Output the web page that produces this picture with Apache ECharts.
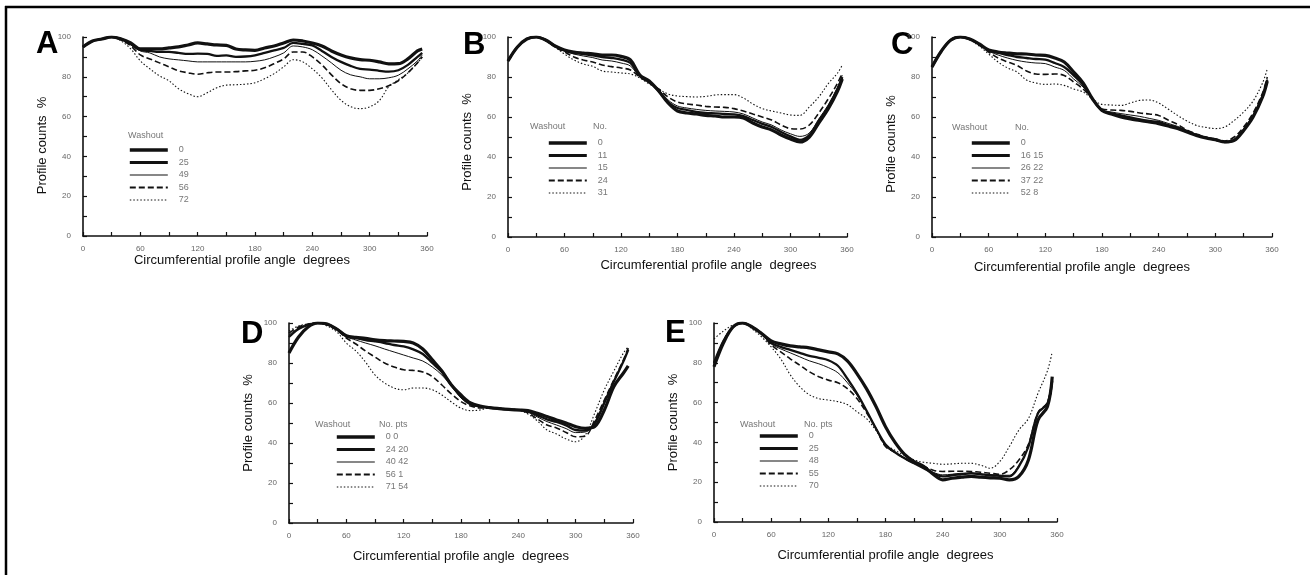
<!DOCTYPE html>
<html><head><meta charset="utf-8">
<script src="https://cdn.jsdelivr.net/npm/echarts@6/dist/echarts.min.js"></script>
<style>html,body{margin:0;padding:0;background:#fff}#c{width:1310px;height:575px}</style>
</head><body><div id="c"></div>
<script>
// ---- DATA ----
const angles = [0,10,20,30,40,50,60,70,80,90,100,110,120,130,140,150,160,170,180,190,200,210,220,230,240,250,260,270,280,290,300,310,320,330,340,350,355];
const xTickLabels = [0,60,120,180,240,300,360];
const yTickLabels = [0,20,40,60,80,100];

// Panel A
const A0 = [95,98,99,100,99,97,94,94,94,94.5,95,96,97,96.5,96,95.8,94,93.5,93.3,94.5,95.5,97,98.5,98,97,95.5,93,91,89.5,88.6,88.3,87.5,86.5,86.6,89,93,94];
const A1 = [95,98,99,100,99,96.5,93.5,93,92.5,92.5,92,91.5,91.6,91.5,90.5,90.8,90,90.2,90.8,92,93.3,94.5,97,96.5,95.8,93,90,87.5,85.5,84,83.6,83,82.6,83.3,86,90,92];
const A2 = [95,98,99,100,99,96,93,92,90,89,88.5,88,87.5,87.5,87.5,87.5,87.5,87.5,87.8,88.5,90,92,95.5,95,93.6,90.5,87,83.3,81,80,79,79,79.5,80.8,84,88,91];
const A3 = [95,98,99,100,98.5,95.5,91,89,87,85,83,82,81.3,82,82.4,82.4,82.6,83,83.3,84.5,86.6,89,92.5,92.5,90,86,81,76.6,74,73.2,73.2,74,75.5,78,82,87,90];
const A4 = [95,98,99,100,98,94,88,84,80.5,78,74,71.5,70,72,74.5,75.8,76,76.3,77,79,81.6,85,88.6,87.5,84,79.5,73.5,68.2,65,64,64.9,68,75,78.5,82,87,90];
const A_labels = ["0","25","49","56","72"];

// Panel B
const B0 = [88,95,99,100,98.5,95.5,93.5,92.5,92,91.6,91,91,90.3,88.5,81,78,73,67,63,62,61.5,60.8,60.5,60,60,59.5,57,55,53.5,51,49,47.5,50,57,64,73,79];
const B1 = [88,95,99,100,98.5,95.5,93.3,92,91.5,90.8,90,89.5,88.7,87,80.5,77.5,73,67.5,64.5,63.5,62.5,62,61.8,61.5,61.3,60.5,58.5,56.6,55,52.5,50.3,48.6,51,58,65,74,80];
const B2 = [88,95,99,100,98.5,95.5,93,91.5,90.5,89.7,88.5,88,87,85.5,80,77,73.5,68.5,65.5,64.5,63.8,63.3,63,62.8,62.5,61.5,59.5,57.5,56,53.5,51.6,50.3,52,59,66,75,81];
const B3 = [88,95,99,100,98.5,95,92.5,90,88.5,87.5,86,85.2,84.5,83.5,80,77,74,70,67.5,66.5,66,65.3,65,64.8,64.2,63,61.5,60,58.5,56,54.2,54,56,62,69,77,82];
const B4 = [88,95,99,100,98,95,91.5,88.5,86.5,85.3,83,82.5,82,81.5,79.5,76.5,74,71.5,70.5,70.2,70,70.3,71,71.2,71.2,69.5,66.5,64.2,63,62,61,60.8,65,70,76.6,82,86];
const B_labels = ["0","11","15","24","31"];

// Panel C
const C0 = [85,93,98.5,100,99,96.5,93.5,92.5,92,91.6,91.5,91,90.8,89.5,87.5,82.5,77,69,63.3,61.5,60,59,58.3,57.5,56.7,55.5,54.2,52.5,50.8,49.5,48.7,47.5,48.3,53.3,60,70,78];
const C1 = [85,93,98.5,100,99,96.5,93.3,92,91,90,89.5,89,88.7,87,85,80.8,76,69,63.3,61.8,60.8,59.8,58.8,58,57.5,56,54.7,53,51,49.7,48.7,47.5,48.5,53.5,60.5,70.5,78.5];
const C2 = [85,93,98.5,100,99,96.5,93,91,89.5,88.3,87.5,87,86.7,85,83.3,79,75,69,63.5,62.5,61.7,61,60.3,59.3,58.3,56.8,55.3,53.2,51.3,50,48.8,47.5,48.7,54,61,71,79];
const C3 = [85,93,98.5,100,99,96,92.5,89.5,87.5,85.8,83,81.5,81.3,81.5,80.8,77.5,74,69,64,63.5,63.3,62.8,62,61.5,60.8,58.5,56.3,53.5,51.5,50,49,48,50,55,62,72,80];
const C4 = [85,93,98.5,100,98.5,95.5,91.5,87.5,84.5,82.5,78.5,77,76.3,76.5,75.8,74,72.5,69,66.3,66,65.8,67,68.3,68.5,67,64,60.8,58,55.8,54.8,54.2,55,58.3,62.5,68,77,84];
const C_labels = ["0","16 15","26 22","37 22","52 8"];

// Panel D
const D0 = [85,93,98,100,99.5,97,93.6,92.8,92.3,91.6,91.2,91,90.8,90,87,81.6,76,69,64,60,58.5,57.7,57.2,56.8,56.5,56.2,54.8,53.2,51.5,50,48.2,47.3,48.2,56.5,68.2,75,78.6];
const D1 = [93,97,99,100,99.5,97,93.4,92.5,91.5,90.8,90,89,88.3,86.8,84.5,80,75.5,69,63.2,59.5,58.3,57.7,57.2,56.8,56.5,55.8,53.8,51.8,50.5,48.8,46.5,46.2,49.8,60,70.7,80.8,86.6];
const D2 = [94,97.5,99.5,100,99.5,97,93.2,91.5,90,88.6,87,85.5,84,82.5,81,78,74,68.5,62.5,59,58,57.7,57.2,56.8,56.5,55.5,53,50.7,49,47.2,45.2,45.5,50.5,61,71.3,81.2,87];
const D3 = [95,98,99.5,100,99,96.5,92.5,89.5,86,83,80,78,76.6,76.3,75.5,73.2,69,64.5,60.7,58.5,57.5,57.5,57.2,56.8,56.5,55,52,49,47.5,45.3,43.1,43.5,51.5,61.5,71.6,81.6,87.5];
const D4 = [96,98.5,99.5,100,98.5,95.5,90,86,80.5,74,70,67.5,66.6,67.5,67.5,66.6,64,60.5,57.4,56.2,56.5,57.5,57.5,57,56.5,54.5,51,46.5,44.5,42,40.6,44,55,66.6,76,85,88];
const D_labels = ["0 0","24 20","40 42","56 1","71 54"];

// Panel E
const E0 = [78,90,98,100,98,94.7,91,89.5,88.5,88,87.5,86.5,85.5,84.5,81,74.6,67,58,47.9,40,34,30.4,28,24,21.2,22,22.5,22.9,22.5,22.2,22,21.2,22.9,31.2,51.2,58,73];
const E1 = [80,91,98,100,98,94.7,90,88,86.5,85,83.5,82.5,81.3,78.5,72,64.6,56,47,39,35,32,29.5,27,24.5,22.9,23.5,24,24.5,24,23.5,23.2,22.9,27.9,37.9,54.6,59.6,71];
const E2 = [80,91,98,100,98,94.7,89.5,87,85,83,81,79.5,77.6,75,70,63.8,56,47,38,35,32,29.5,27.5,25,23.7,24,24.5,24.5,24,23.8,23.5,23.5,28.5,38,55,60,71];
const E3 = [80,91,98,100,98,94.5,89,85.5,82,78.8,75.5,73,71.3,70,67,62.1,55,47,37.9,35,32,29.5,28,26,25.4,25.5,25.5,25.4,25,24.5,24,26.2,31.2,39,55,60,72];
const E4 = [92,96,99,100,97,93,88,82,74,68,64,62,61.3,60.5,59,55.4,52,46,39,36,33.5,31.2,30,29.5,29,29.2,29.5,29.5,28.5,27,30.4,37.9,46.2,52,64.6,76,85.5];
const E_labels = ["0","25","48","55","70"];

const panelLetters = ["A","B","C","D","E"];
const xTitle = "Circumferential profile angle  degrees";
const yTitle = "Profile counts  %";
const legendTitle = "Washout";
const legendTitle2 = ["", "No.", "No.", "No. pts", "No. pts"];

// ---- LAYOUT / STYLE ----
const panels = [
  {key:"A", data:[A0,A1,A2,A3,A4], labels:A_labels, grid:{left:83,top:37,width:344,height:199}, letter:[47,45], xGap:18, xPad:[0,26,0,0], yPad:[0,18,0,0], leg:{left:128,top:144.5}, head:[128,136], head2:null},
  {key:"B", data:[B0,B1,B2,B3,B4], labels:B_labels, grid:{left:508,top:37,width:339,height:200}, letter:[474,46], xGap:22, xPad:[0,0,0,62], yPad:[0,10,0,0], leg:{left:547,top:137.5}, head:[530,127], head2:[593,127]},
  {key:"C", data:[C0,C1,C2,C3,C4], labels:C_labels, grid:{left:932,top:37,width:340,height:200}, letter:[902,46], xGap:24, xPad:[0,40,0,0], yPad:[0,14,0,0], leg:{left:970,top:137.5}, head:[952,128], head2:[1015,128]},
  {key:"D", data:[D0,D1,D2,D3,D4], labels:D_labels, grid:{left:289,top:323,width:344,height:200}, letter:[252,335], xGap:27, xPad:[0,0,0,0], yPad:[0,0,0,0], leg:{left:335,top:431.5}, head:[315,425], head2:[379,425]},
  {key:"E", data:[E0,E1,E2,E3,E4], labels:E_labels, grid:{left:714,top:323,width:343,height:199}, letter:[676,334], xGap:27, xPad:[0,0,0,0], yPad:[0,0,0,0], leg:{left:758,top:430.5}, head:[740,425], head2:[804,425]}
];
const lineStyles = [
  {width:3.2, type:'solid'},
  {width:2.3, type:'solid'},
  {width:1.0, type:'solid'},
  {width:1.6, type:[6,3]},
  {width:1.1, type:[1.5,2]}
];
const legendLineStyles = [
  {width:3.6, type:'solid'},
  {width:2.8, type:'solid'},
  {width:1.2, type:'solid'},
  {width:1.8, type:[6,3]},
  {width:1.2, type:[1.5,2]}
];
const FONT = '"Liberation Sans", Arial, Helvetica, sans-serif';
const ink = '#111';

const grids=[], xAxes=[], yAxes=[], series=[], legends=[], graphics=[];
panels.forEach((p, i) => {
  grids.push(Object.assign({containLabel:false}, p.grid));
  xAxes.push({
    type:'value', gridIndex:i, min:0, max:360, interval:30,
    name:xTitle, nameLocation:'middle', nameGap:p.xGap,
    nameTextStyle:{fontFamily:FONT, fontSize:13, color:'#111', padding:p.xPad},
    axisLine:{lineStyle:{color:ink, width:1.6}},
    axisTick:{inside:true, length:4, lineStyle:{color:ink, width:1.2}},
    axisLabel:{fontFamily:FONT, fontSize:8, color:'#666', margin:9,
      formatter:v => xTickLabels.includes(v) ? String(v) : ''},
    splitLine:{show:false}
  });
  yAxes.push({
    type:'value', gridIndex:i, min:0, max:100, interval:10,
    name:yTitle, nameLocation:'middle', nameGap:34, nameRotate:90,
    nameTextStyle:{fontFamily:FONT, fontSize:13, color:'#111', padding:p.yPad},
    axisLine:{show:true, lineStyle:{color:ink, width:1.6}},
    axisTick:{show:true, inside:true, length:4, lineStyle:{color:ink, width:1.2}},
    axisLabel:{fontFamily:FONT, fontSize:8, color:'#666', margin:12,
      formatter:v => yTickLabels.includes(v) ? String(v) : ''},
    splitLine:{show:false}
  });
  const legendItems = [];
  p.data.forEach((arr, k) => {
    const nm = p.key + ':' + p.labels[k];
    legendItems.push({name:nm, itemStyle:{opacity:0, borderWidth:0},
      lineStyle:{color:ink, width:legendLineStyles[k].width, type:legendLineStyles[k].type}});
    series.push({
      type:'line', name:nm, xAxisIndex:i, yAxisIndex:i,
      data: angles.map((a, j) => [a, arr[j]]),
      smooth:0.35, symbol:'none', animation:false, z: 10 - k,
      itemStyle:{color:ink},
      lineStyle:{color:ink, width:lineStyles[k].width, type:lineStyles[k].type}
    });
  });
  legends.push({
    data:legendItems, orient:'vertical', left:p.leg.left, top:p.leg.top, padding:0,
    itemWidth:38, itemHeight:11, itemGap:1.5, selectedMode:false,
    itemStyle:{opacity:0, borderWidth:0},
    formatter: n => n.split(':')[1],
    textStyle:{fontFamily:FONT, fontSize:9, lineHeight:11, color:'#777', padding:[0,0,0,6]}
  });
  graphics.push({type:'text', left:p.letter[0]-11, top:p.letter[1]-16,
    style:{text:panelLetters[i], font:'bold 31px '+FONT, fill:'#000'}});
  graphics.push({type:'text', left:p.head[0], top:p.head[1]-5,
    style:{text:legendTitle, font:'9px '+FONT, fill:'#777'}});
  if (p.head2) graphics.push({type:'text', left:p.head2[0], top:p.head2[1]-5,
    style:{text:legendTitle2[i], font:'9px '+FONT, fill:'#777'}});
});
// outer frame (top and left edges)
graphics.push({type:'line', shape:{x1:5, y1:7, x2:1310, y2:7}, style:{stroke:'#000', lineWidth:2.5}});
graphics.push({type:'line', shape:{x1:6, y1:6, x2:6, y2:575}, style:{stroke:'#000', lineWidth:2.5}});

const chart = echarts.init(document.getElementById('c'), null, {renderer:'canvas'});
chart.setOption({
  backgroundColor:'#fff', animation:false,
  grid:grids, xAxis:xAxes, yAxis:yAxes, series:series, legend:legends, graphic:graphics
});
</script></body></html>
